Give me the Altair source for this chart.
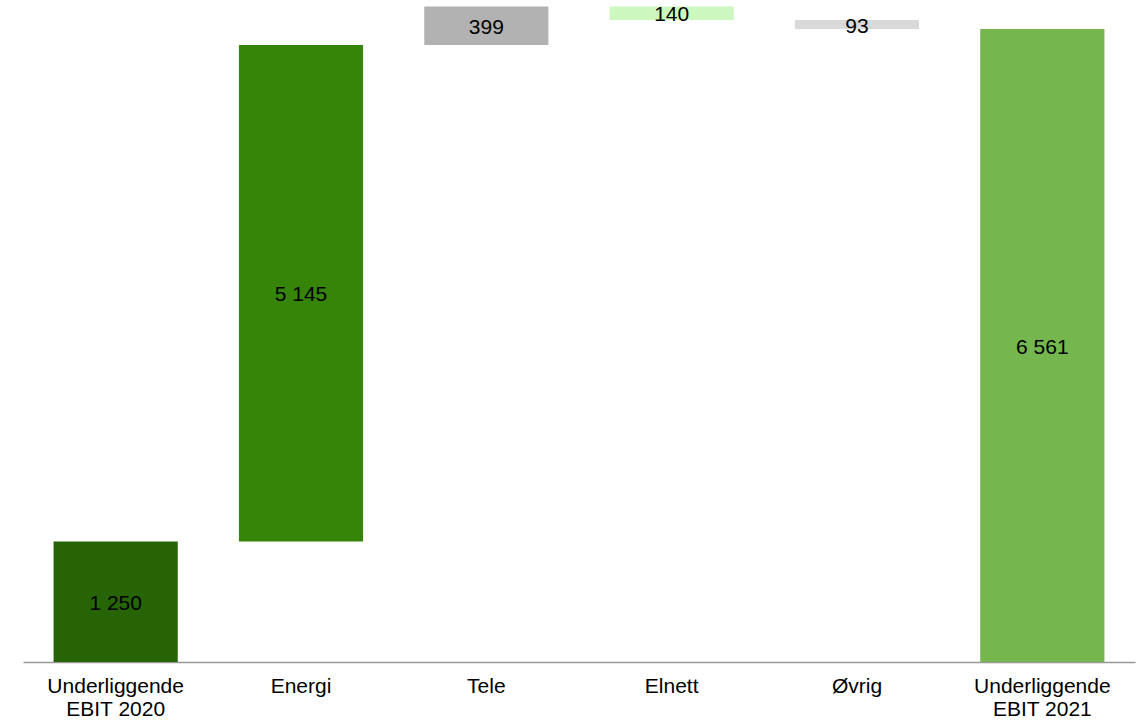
import altair as alt
import pandas as pd

categories = ["Underliggende\nEBIT 2020", "Energi", "Tele", "Elnett", "Øvrig", "Underliggende\nEBIT 2021"]
values = [1250, 5145, 399, -140, -93, 6561]
kinds = ["total", "delta", "delta", "delta", "delta", "total"]
colors = ["#276405", "#368508", "#B2B2B2", "#CCF7BE", "#D9D9D9", "#75B74E"]

rows = []
running = 0
for cat, val, kind, col in zip(categories, values, kinds, colors):
    if kind == "total":
        start, end = 0, val
        running = val
    else:
        start, end = running, running + val
        running = end
    rows.append({
        "cat": cat,
        "start": start,
        "end": end,
        "mid": (start + end) / 2,
        "label": f"{abs(val):,}".replace(",", " "),
        "color": col,
    })
df = pd.DataFrame(rows)

xenc = alt.X(
    "cat:N",
    sort=None,
    scale=alt.Scale(paddingInner=0.33, paddingOuter=0.165),
    axis=alt.Axis(
        title=None,
        labelAngle=0,
        ticks=False,
        labelExpr="split(datum.value, '\\n')",
        labelFont="Liberation Sans",
        labelFontSize=21,
        labelColor="#000000",
        labelLineHeight=23,
        labelPadding=13,
        domainColor="#999999",
        domainWidth=1.5,
        grid=False,
    ),
)
yscale = alt.Scale(domain=[0, 6862], nice=False, zero=True)

base = alt.Chart(df)
bars = base.mark_bar().encode(
    x=xenc,
    y=alt.Y("start:Q", scale=yscale, axis=None),
    y2="end:Q",
    color=alt.Color("color:N", scale=None),
)
texts = base.mark_text(font="Liberation Sans", fontSize=21, color="#000000", baseline="middle", dy=2).encode(
    x=alt.X("cat:N", sort=None),
    y=alt.Y("mid:Q", scale=yscale),
    text="label:N",
)

chart = (bars + texts).properties(
    width=1112,
    height=662,
    padding={"left": 23, "top": 0, "right": 3, "bottom": 0},
).configure_view(stroke=None)

chart.save("out.html", embed_options={"renderer": "svg", "actions": False})
